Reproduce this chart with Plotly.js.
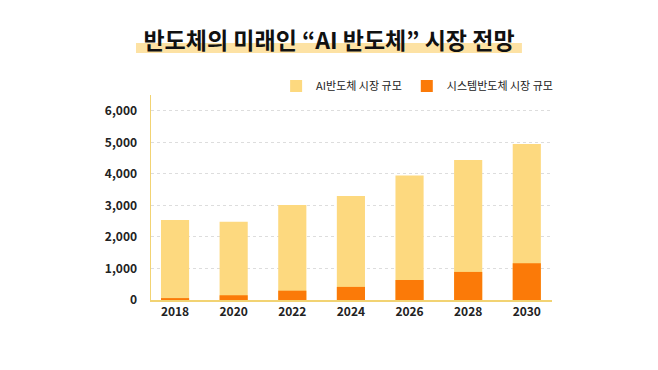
<!DOCTYPE html>
<html>
<head>
<meta charset="utf-8">
<script src="https://cdn.plot.ly/plotly-3.0.1.min.js"></script>
<style>html,body{margin:0;padding:0;background:#fff;}#chart{width:658px;height:370px;}</style>
</head>
<body>
<div id="chart"></div>
<script>
const years = ['2018', '2020', '2022', '2024', '2026', '2028', '2030'];
const aiMarket = [2540, 2480, 3010, 3300, 3950, 4440, 4950];
const systemMarket = [60, 150, 295, 415, 635, 890, 1165];
const seriesNames = ['AI반도체 시장 규모', '시스템반도체 시장 규모'];
const titleText = '반도체의 미래인 “AI 반도체” 시장 전망';

const FONT = '"Noto Sans CJK KR", "Noto Sans", sans-serif';

const traces = [
  {type: 'bar', x: years, y: aiMarket, name: seriesNames[0], width: 0.48,
   marker: {color: '#FDD97F'}, hoverinfo: 'x+y'},
  {type: 'bar', x: years, y: systemMarket, name: seriesNames[1], width: 0.48,
   marker: {color: '#FB7A08'}, hoverinfo: 'x+y'}
];

const layout = {
  width: 658, height: 370,
  margin: {l: 151, r: 106, t: 95, b: 70},
  paper_bgcolor: '#ffffff', plot_bgcolor: '#ffffff',
  barmode: 'overlay',
  font: {family: FONT, color: '#222'},
  title: {text: '<b>' + titleText + '</b>', x: 0.5, xref: 'container', y: 0.89, yref: 'container',
          yanchor: 'middle', font: {size: 23, color: '#111', family: FONT}},
  showlegend: true,
  legend: {orientation: 'h', x: 0.312, xanchor: 'left', y: 1.044, yanchor: 'middle',
           font: {size: 11, color: '#222', family: FONT}, traceorder: 'normal',
           itemwidth: 30, bgcolor: 'rgba(0,0,0,0)'},
  xaxis: {type: 'category', range: [-0.41, 6.43], showgrid: false, zeroline: false,
          showline: true, linecolor: '#F2D373', linewidth: 1.5, ticks: '',
          tickfont: {size: 12, color: '#222', family: FONT, weight: 'bold'}, fixedrange: true},
  yaxis: {range: [0, 6500], tickvals: [0, 1000, 2000, 3000, 4000, 5000, 6000],
          ticktext: ['0', '1,000', '2,000', '3,000', '4,000', '5,000', '6,000'],
          showgrid: true, gridcolor: '#dddddd', griddash: '3px,3px', gridwidth: 1,
          zeroline: false, showline: true, linecolor: '#F2D373', linewidth: 1.5, ticks: '',
          ticklabelstandoff: 10,
          tickfont: {size: 12, color: '#222', family: FONT, weight: 'bold'}, fixedrange: true},
  shapes: [
    {type: 'rect', xref: 'paper', yref: 'paper', x0: -0.0374, x1: 0.925, y0: 1.205, y1: 1.254,
     fillcolor: '#FDE2A4', line: {width: 0}, layer: 'below'}
  ]
};

Plotly.newPlot('chart', traces, layout, {displayModeBar: false, staticPlot: true});
</script>
</body>
</html>
